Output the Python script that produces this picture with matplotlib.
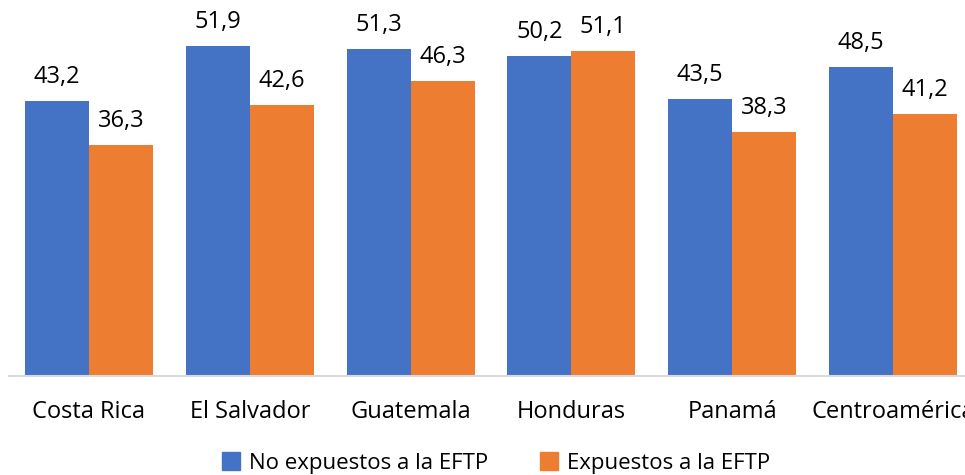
import matplotlib
matplotlib.use("Agg")
import matplotlib.pyplot as plt
import numpy as np
from matplotlib.patches import Patch

categories = ["Costa Rica", "El Salvador", "Guatemala", "Honduras", "Panamá", "Centroamérica"]
no_expuestos = [43.2, 51.9, 51.3, 50.2, 43.5, 48.5]
expuestos = [36.3, 42.6, 46.3, 51.1, 38.3, 41.2]
series_names = ["No expuestos a la EFTP", "Expuestos a la EFTP"]
colors = ["#4472C4", "#ED7D31"]

plt.rcParams['font.family'] = ['Open Sans', 'DejaVu Sans']

W, H = 965, 475
fig = plt.figure(figsize=(W / 100, H / 100), dpi=100)
pitch = 160.8
left = 89 - pitch / 2
ax = fig.add_axes([left / W, (H - 376) / H, 6 * pitch / W, 376 / H])

x = np.arange(len(categories))
bw = 0.398
b1 = ax.bar(x - bw / 2, no_expuestos, bw, color=colors[0])
b2 = ax.bar(x + bw / 2, expuestos, bw, color=colors[1])

fmt = lambda v: f"{v:.1f}".replace(".", ",")
for bars, vals in ((b1, no_expuestos), (b2, expuestos)):
    for r, v in zip(bars, vals):
        ax.annotate(fmt(v), (r.get_x() + r.get_width() / 2, v), xytext=(0, 18),
                    textcoords="offset pixels", ha="center", va="baseline",
                    fontsize=17, color="#000000")

ax.set_xlim(-0.5, len(categories) - 0.5)
ax.set_ylim(0, 376 / 6.366)
ax.set_yticks([])
ax.set_xticks(x)
ax.set_xticklabels(categories, fontsize=17)
ax.tick_params(axis="x", length=0, pad=17)
for s in ("top", "right", "left"):
    ax.spines[s].set_visible(False)
ax.spines["bottom"].set_color("#D9D9D9")
ax.spines["bottom"].set_linewidth(1.5)

handles = [Patch(color=c) for c in colors]
fig.legend(handles, series_names, loc="center", bbox_to_anchor=(496 / W, 1 - 463 / H),
           ncol=2, frameon=False, fontsize=16, handlelength=0.85, handleheight=0.85,
           handletextpad=0.4, columnspacing=2.3)

fig.savefig("out.png", dpi=100)
